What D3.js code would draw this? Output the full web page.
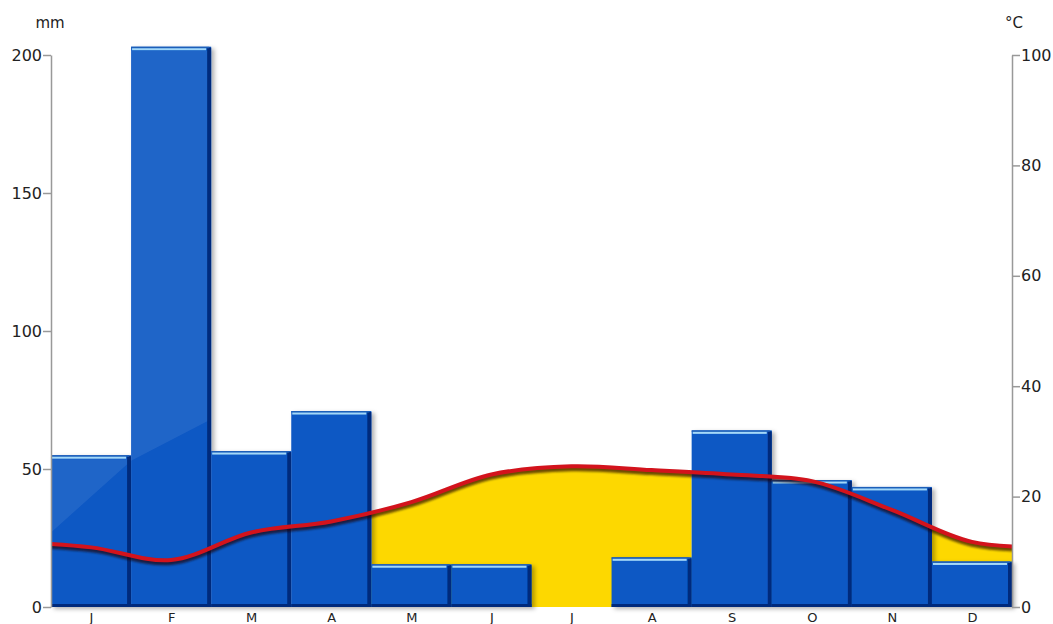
<!DOCTYPE html>
<html>
<head>
<meta charset="utf-8">
<script src="https://cdn.jsdelivr.net/npm/d3@7"></script>
<style>
  body { margin: 0; background: #fff; }
  svg { display: block; }
  .axis text { font-family: "DejaVu Sans", sans-serif; font-size: 16px; fill: #222; }
  .axis line, .axis path { stroke: #999; stroke-width: 1.5; }
  .xaxis text { font-size: 13px; }
  .unit { font-family: "DejaVu Sans", sans-serif; font-size: 15px; fill: #222; }
</style>
</head>
<body>
<div id="chart"></div>
<script>
var width  = 1053;
var height = 624;

// data
var months   = ["J", "F", "M", "A", "M", "J", "J", "A", "S", "O", "N", "D"];
var precip   = [55, 203, 56.5, 71, 15.5, 15.5, 0, 18, 64, 46, 43.5, 16.5];   // mm
var temp     = [10.8, 8.5, 13.5, 15.5, 19, 24, 25.5, 24.8, 24, 22.8, 17.6, 11.8]; // °C
var mmTicks  = [0, 50, 100, 150, 200];
var degTicks = [0, 20, 40, 60, 80, 100];

var plot = {left: 51, right: 1012, top: 55, bottom: 607};

var x  = d3.scaleLinear().domain([0, 12]).range([plot.left, plot.right]);
var yP = d3.scaleLinear().domain([0, 200]).range([plot.bottom, plot.top]);
var yT = d3.scaleLinear().domain([0, 100]).range([plot.bottom, plot.top]);

var svg = d3.select("#chart").append("svg")
    .attr("width", width)
    .attr("height", height);

var defs = svg.append("defs");

defs.append("filter").attr("id", "barShadow")
    .attr("x", "-10%").attr("y", "-10%").attr("width", "130%").attr("height", "130%")
  .append("feDropShadow")
    .attr("dx", 3).attr("dy", 2).attr("stdDeviation", 2)
    .attr("flood-color", "#000").attr("flood-opacity", 0.3);

defs.append("filter").attr("id", "lineBlur")
  .append("feGaussianBlur").attr("stdDeviation", 1);

defs.append("clipPath").attr("id", "plotClip")
  .append("rect")
    .attr("x", plot.left).attr("y", 0)
    .attr("width", plot.right - plot.left).attr("height", plot.bottom);

// month records, dry months = temperature curve above precipitation (P < 2T)
var data = months.map(function (m, i) {
  return {i: i, m: m, p: precip[i], t: temp[i], dry: precip[i] < 2 * temp[i]};
});

// wrap Dec before Jan and Jan after Dec so the curve reaches the edges
var tPoints = [{pos: -0.5, t: temp[11]}]
  .concat(data.map(function (d) { return {pos: d.i + 0.5, t: d.t}; }))
  .concat([{pos: 12.5, t: temp[0]}]);

// yellow dry season: area under curve, clipped to the dry months
var dryClip = defs.append("clipPath").attr("id", "dryClip");
dryClip.selectAll("rect")
    .data(data.filter(function (d) { return d.dry; }))
    .enter().append("rect")
    .attr("x", function (d) { return x(d.i); })
    .attr("y", 0)
    .attr("width", function (d) { return x(d.i + 1) - x(d.i); })
    .attr("height", plot.bottom);

var area = d3.area()
    .x(function (d) { return x(d.pos); })
    .y0(yT(0))
    .y1(function (d) { return yT(d.t); })
    .curve(d3.curveCatmullRom.alpha(0.5));

svg.append("path")
    .datum(tPoints)
    .attr("d", area)
    .attr("fill", "#fdd800")
    .attr("clip-path", "url(#dryClip)");

// bars
var wet = data.filter(function (d) { return d.p > 0; });

var barClip = defs.append("clipPath").attr("id", "barClip");
barClip.selectAll("rect").data(wet).enter().append("rect")
    .attr("x", function (d) { return x(d.i); })
    .attr("y", function (d) { return yP(d.p) + 4; })
    .attr("width", function (d) { return x(d.i + 1) - x(d.i) - 4; })
    .attr("height", function (d) { return yP(0) - yP(d.p) - 7; });

var bars = svg.append("g").attr("filter", "url(#barShadow)");

var bar = bars.selectAll("g")
    .data(wet)
    .enter().append("g");

bar.append("rect")
    .attr("x", function (d) { return x(d.i); })
    .attr("y", function (d) { return yP(d.p); })
    .attr("width", function (d) { return x(d.i + 1) - x(d.i); })
    .attr("height", function (d) { return yP(0) - yP(d.p); })
    .attr("fill", "#0a59c4");

// dark right edge
bar.append("rect")
    .attr("x", function (d) { return x(d.i + 1) - 4; })
    .attr("y", function (d) { return yP(d.p) + 1; })
    .attr("width", 4)
    .attr("height", function (d) { return yP(0) - yP(d.p) - 1; })
    .attr("fill", "#022a7c");

// dark bottom
bar.append("rect")
    .attr("x", function (d) { return x(d.i); })
    .attr("y", yP(0) - 3)
    .attr("width", function (d) { return x(d.i + 1) - x(d.i); })
    .attr("height", 3)
    .attr("fill", "#022a7c");

// top edge + light highlight
bar.append("rect")
    .attr("x", function (d) { return x(d.i); })
    .attr("y", function (d) { return yP(d.p); })
    .attr("width", function (d) { return x(d.i + 1) - x(d.i) - 2; })
    .attr("height", 1.5)
    .attr("fill", "#1f5fb8");

bar.append("rect")
    .attr("x", function (d) { return x(d.i) + 1; })
    .attr("y", function (d) { return yP(d.p) + 1.5; })
    .attr("width", function (d) { return x(d.i + 1) - x(d.i) - 6; })
    .attr("height", 2)
    .attr("fill", "#a4d8f8");

// gloss on the left bars
svg.append("path")
    .attr("d", d3.line()([
      [x(0), yP(27)], [x(1), yP(53)], [x(2), yP(68)],
      [x(2), yP(210)], [x(0), yP(210)]
    ]) + "Z")
    .attr("fill", "#fff")
    .attr("opacity", 0.08)
    .attr("clip-path", "url(#barClip)");

// temperature curve
var line = d3.line()
    .x(function (d) { return x(d.pos); })
    .y(function (d) { return yT(d.t); })
    .curve(d3.curveCatmullRom.alpha(0.5));

var lineG = svg.append("g").attr("clip-path", "url(#plotClip)");

lineG.append("path")
    .datum(tPoints)
    .attr("d", line)
    .attr("transform", "translate(0,2.5)")
    .attr("fill", "none")
    .attr("stroke", "#1a0000")
    .attr("stroke-opacity", 0.65)
    .attr("stroke-width", 5)
    .attr("filter", "url(#lineBlur)");

lineG.append("path")
    .datum(tPoints)
    .attr("d", line)
    .attr("fill", "none")
    .attr("stroke", "#d3131c")
    .attr("stroke-width", 4);

// axes
svg.append("g")
    .attr("class", "axis")
    .attr("transform", "translate(" + plot.left + ",0)")
    .call(d3.axisLeft(yP).tickValues(mmTicks).tickSize(8).tickSizeOuter(0).tickPadding(1));

svg.append("g")
    .attr("class", "axis")
    .attr("transform", "translate(" + plot.right + ",0)")
    .call(d3.axisRight(yT).tickValues(degTicks).tickSize(8).tickSizeOuter(0).tickPadding(1));

var xAxis = svg.append("g")
    .attr("class", "axis xaxis")
    .attr("transform", "translate(0," + plot.bottom + ")")
    .call(d3.axisBottom(x)
      .tickValues(d3.range(12).map(function (i) { return i + 0.5; }))
      .tickFormat(function (v) { return months[Math.floor(v)]; })
      .tickSize(0).tickPadding(6));
xAxis.select(".domain").remove();

svg.append("text")
    .attr("class", "unit")
    .attr("x", 50).attr("y", 28)
    .attr("text-anchor", "middle")
    .text("mm");

svg.append("text")
    .attr("class", "unit")
    .attr("x", 1014).attr("y", 28)
    .attr("text-anchor", "middle")
    .text("°C");
</script>
</body>
</html>
